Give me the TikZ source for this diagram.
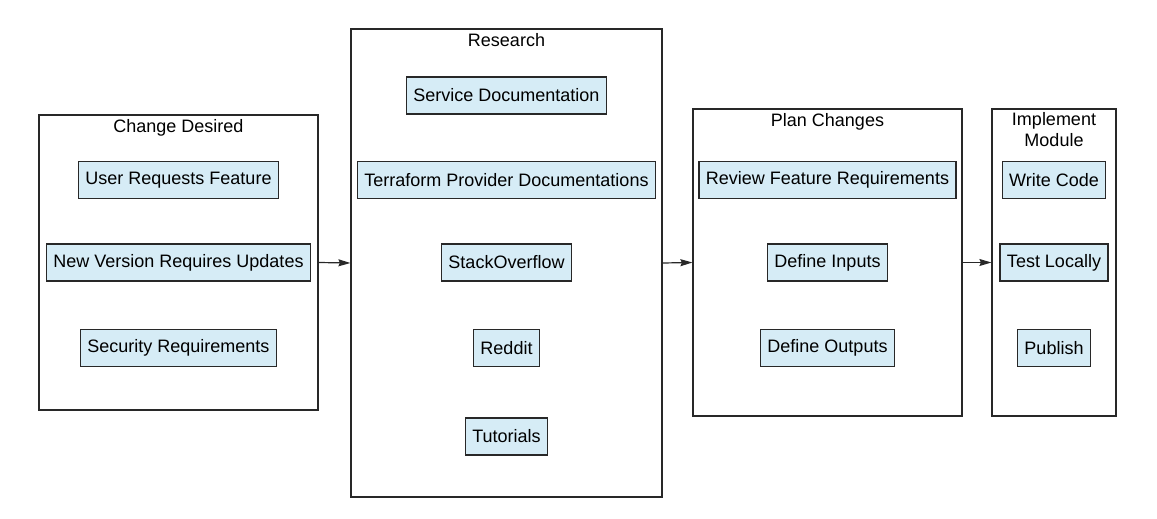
\documentclass[tikz,border=0pt]{standalone}
\usepackage{fontspec}
\setmainfont{Liberation Sans}
\usetikzlibrary{arrows,arrows.meta,calc}
\usetikzlibrary{positioning}

\definecolor{taskblue}{RGB}{214,236,246}
\definecolor{edgegray}{RGB}{40,40,40}

\begin{document}
\begin{tikzpicture}[x=1pt,y=-1pt,
	stage/.style={draw=edgegray,line width=1.2pt,minimum height=307pt},
	title/.style={inner sep=2pt,font=\fontsize{18}{20.5}\selectfont,align=center},
	task/.style={draw=edgegray,fill=taskblue,line width=1.2pt,inner xsep=7pt,inner ysep=0pt,minimum height=37pt,font=\fontsize{18}{20.5}\selectfont},
	flow/.style={-{Stealth[length=12pt,width=7pt,inset=1.5pt]},line width=1.2pt,draw=edgegray}]

	\useasboundingbox (0,0) rectangle (1157,519);

	%Change Desired
	\node[stage,minimum width=279pt,minimum height=295pt] (cd) at (178.5,262.5) {};
	\node[title,below=3pt of cd.north] (cdt) {Change Desired};
	\node[task] (urf) at (178.5,180) {User Requests Feature};
	\node[task] (nvru) at (178.5,262.5) {New Version Requires Updates};
	\node[task] (sr) at (178.5,348) {Security Requirements};

	%Research
	\node[stage,minimum width=311pt,minimum height=468pt] (rs) at (506.5,263) {};
	\node[title,below=3pt of rs.north] (rst) {Research};
	\node[task] (sd) at (506.5,95.5) {Service Documentation};
	\node[task] (tpd) at (506.5,180) {Terraform Provider Documentations};
	\node[task] (so) at (506.5,262.5) {StackOverflow};
	\node[task] (rd) at (506.5,348) {Reddit};
	\node[task] (tut) at (506.5,436.5) {Tutorials};

	%Plan Changes
	\node[stage,minimum width=269pt] (pc) at (827.5,262.5) {};
	\node[title,below=3pt of pc.north] (pct) {Plan Changes};
	\node[task] (rfr) at (827.5,180) {Review Feature Requirements};
	\node[task] (din) at (827.5,262.5) {Define Inputs};
	\node[task] (dout) at (827.5,348) {Define Outputs};

	%Implement Module
	\node[stage,minimum width=124pt] (im) at (1054,262.5) {};
	\node[title,below=2pt of im.north] (imt) {Implement\\Module};
	\node[task] (wc) at (1054,180) {Write Code};
	\node[task] (tl) at (1054,262.5) {Test Locally};
	\node[task] (pb) at (1054,348) {Publish};

	%flow between stages
	\draw[flow] (cd.east) -- (rs.west);
	\draw[flow] (rs.east) -- (pc.west);
	\draw[flow] (pc.east) -- (im.west);

\end{tikzpicture}
\end{document}
